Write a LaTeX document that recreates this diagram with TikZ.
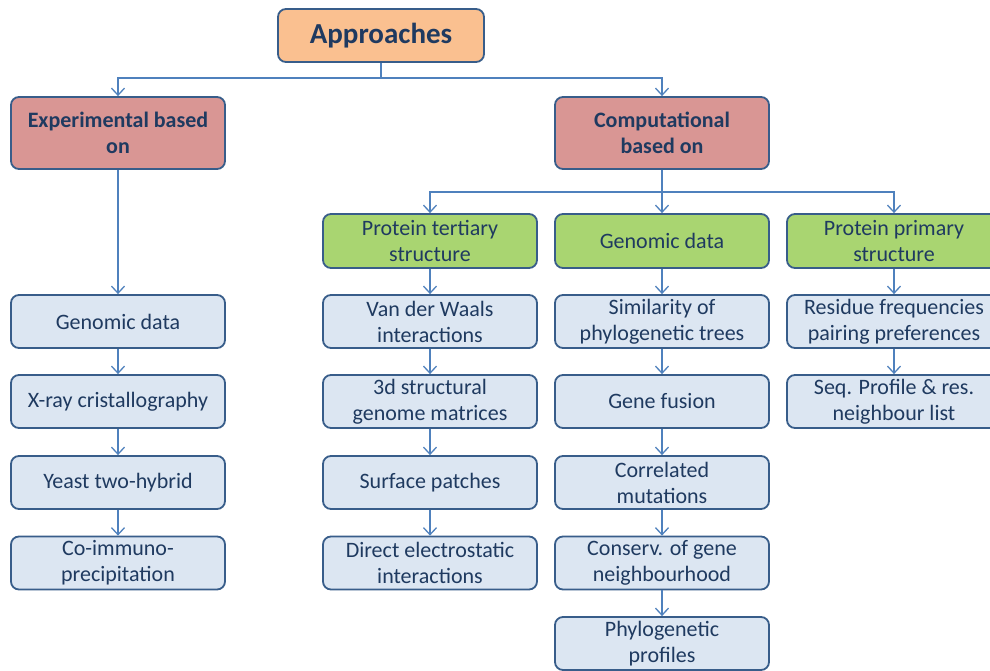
\documentclass[tikz,border=0pt]{standalone}
\usepackage{fontspec}
\setmainfont{Carlito}
\usetikzlibrary{arrows.meta}
\definecolor{edgeblue}{HTML}{385D8A}
\definecolor{linkblue}{HTML}{4F81BD}
\definecolor{txtnavy}{HTML}{1F3A60}
\definecolor{peach}{HTML}{FAC090}
\definecolor{rose}{HTML}{D99694}
\definecolor{leaf}{HTML}{A9D571}
\definecolor{pale}{HTML}{DCE6F2}
\tikzset{
  box/.style={draw=edgeblue, line width=1.8pt, rounded corners=8pt,
    minimum width=214pt, minimum height=54pt, align=center,
    text=txtnavy, font=\fontsize{22}{26}\selectfont, inner sep=0pt},
  topbox/.style={box, fill=peach, minimum width=206pt, minimum height=53pt,
    font=\fontsize{29}{32}\selectfont\bfseries},
  catbox/.style={box, fill=rose, minimum height=72pt,
    font=\fontsize{22}{26}\selectfont\bfseries},
  srcbox/.style={box, fill=leaf},
  itembox/.style={box, fill=pale, minimum height=53pt},
  link/.style={draw=linkblue, line width=1.3pt,
    -{Straight Barb[length=7pt,width=13pt,line width=1.3pt]}},
  plain/.style={draw=linkblue, line width=1.3pt}
}
\begin{document}
\begin{tikzpicture}[x=1pt,y=-1pt]
\useasboundingbox (0,0) rectangle (990,670);
\clip (0,0) rectangle (990,670);
\fill[white] (0,0) rectangle (990,670);

% root and the two families of approaches
\node[topbox] (root) at (381,35.5) {Approaches};
\node[catbox] (exp) at (118,133) {Experimental based\\on};
\node[catbox] (comp) at (662,133) {Computational\\based on};

% computational data sources
\node[srcbox] (tert) at (430,241) {Protein tertiary\\structure};
\node[srcbox] (gen) at (662,241) {Genomic data};
\node[srcbox] (prim) at (894,241) {Protein primary\\structure};

% experimental methods
\node[itembox] (e1) at (118,321.5) {Genomic data};
\node[itembox] (e2) at (118,401.5) {X-ray cristallography};
\node[itembox] (e3) at (118,482.5) {Yeast two-hybrid};
\node[itembox] (e4) at (118,563) {Co-immuno-\\precipitation};

% tertiary structure methods
\node[itembox] (t1) at (430,321.5) {Van der Waals\\interactions};
\node[itembox] (t2) at (430,401.5) {3d structural\\genome matrices};
\node[itembox] (t3) at (430,482.5) {Surface patches};
\node[itembox] (t4) at (430,563) {Direct electrostatic\\interactions};

% genomic methods
\node[itembox] (g1) at (662,321.5) {Similarity of\\phylogenetic trees};
\node[itembox] (g2) at (662,401.5) {Gene fusion};
\node[itembox] (g3) at (662,482.5) {Correlated\\mutations};
\node[itembox] (g4) at (662,563) {Conserv. of gene\\neighbourhood};
\node[itembox] (g5) at (662,643.5) {Phylogenetic\\profiles};

% primary structure methods
\node[itembox] (p1) at (894,321.5) {Residue frequencies\\pairing preferences};
\node[itembox] (p2) at (894,401.5) {Seq. Profile \& res.\\neighbour list};

% tree connectors
\coordinate (rootbus) at (381,78);
\coordinate (compbus) at (662,192);
\draw[plain] (root.south) -- (rootbus);
\draw[link] (rootbus) -| (exp.north);
\draw[link] (rootbus) -| (comp.north);

\draw[plain] (comp.south) -- (compbus);
\draw[link] (compbus) -| (tert.north);
\draw[link] (compbus) -- (gen.north);
\draw[link] (compbus) -| (prim.north);

% chains
\draw[link] (exp.south) -- (e1.north);
\draw[link] (e1) -- (e2);
\draw[link] (e2) -- (e3);
\draw[link] (e3) -- (e4);

\draw[link] (tert) -- (t1);
\draw[link] (t1) -- (t2);
\draw[link] (t2) -- (t3);
\draw[link] (t3) -- (t4);

\draw[link] (gen) -- (g1);
\draw[link] (g1) -- (g2);
\draw[link] (g2) -- (g3);
\draw[link] (g3) -- (g4);
\draw[link] (g4) -- (g5);

\draw[link] (prim) -- (p1);
\draw[link] (p1) -- (p2);
\end{tikzpicture}
\end{document}
